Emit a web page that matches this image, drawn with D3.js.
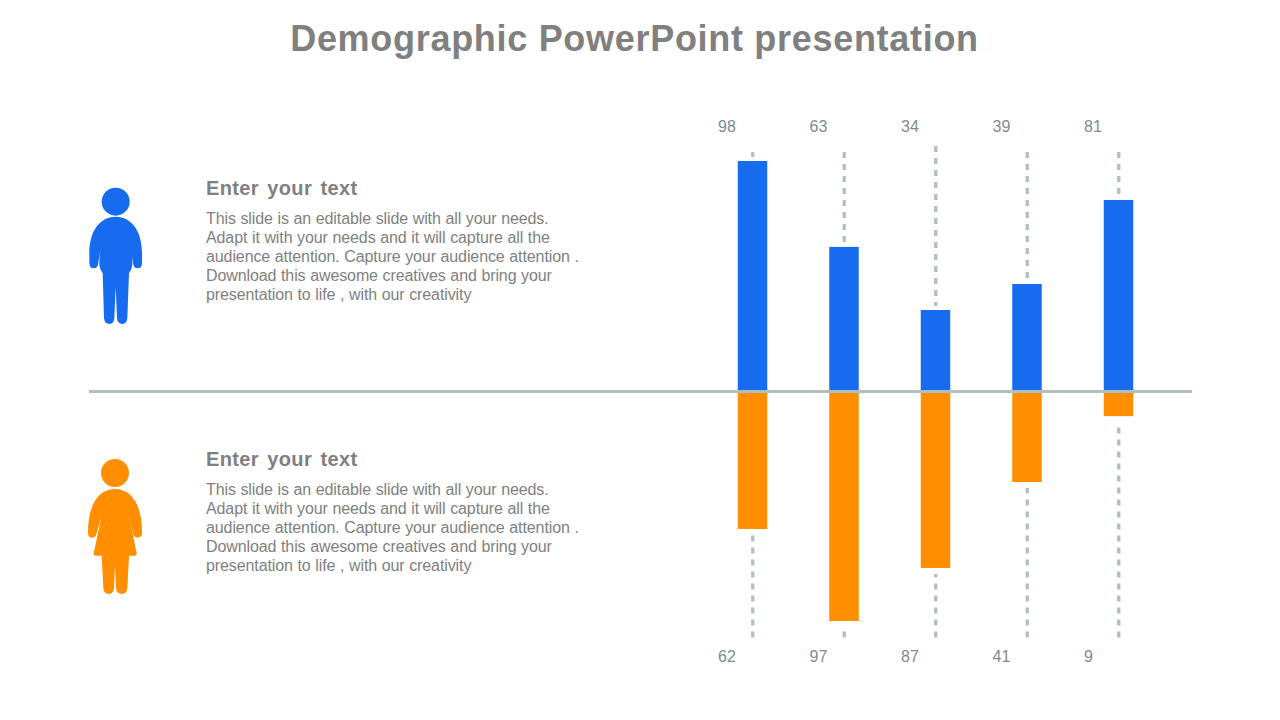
<!DOCTYPE html>
<html>
<head>
<meta charset="utf-8">
<script src="https://cdn.jsdelivr.net/npm/d3@7"></script>
<style>
  html, body { margin: 0; background: #fff; }
  text { font-family: "Liberation Sans", Arial, sans-serif; }
</style>
</head>
<body>
<div id="wrapper"></div>
<script>
// access data
const slideTitle = "Demographic PowerPoint presentation"
const heading = "Enter your text"
const bodyLines = [
  "This slide is an editable slide with all your needs.",
  "Adapt it with your needs and it will capture all the",
  "audience attention. Capture your audience attention .",
  "Download this awesome creatives and bring your",
  "presentation to life , with our creativity"
]
const columns = [0, 1, 2, 3, 4]
const topLabels = ["98", "63", "34", "39", "81"]
const bottomLabels = ["62", "97", "87", "41", "9"]
// bar lengths as drawn, they do not follow the printed labels exactly
const topValues = [98, 61.4, 34.5, 45.6, 81.4]
const bottomValues = [58.8, 98, 75.4, 38.8, 10.7]
const guideTops = [101.8, 101.8, 104.4, 101.8, 101.8]

const blue = "#176bef"
const orange = "#ff8f00"
const guideColor = "#b1bfc1"
const textColor = "#808080"
const labelColor = "#7f8a94"

const wrapper = d3.select("#wrapper")
  .append("svg")
    .attr("width", 1280)
    .attr("height", 720)
    .style("display", "block")

// create scales
const xScale = d3.scalePoint()
  .domain(columns)
  .range([752.5, 1118.5])
const upScale = d3.scaleLinear()
  .domain([0, 98])
  .range([391, 161])
const downScale = d3.scaleLinear()
  .domain([0, 98])
  .range([391, 621])
const barWidth = 29.5

// title
wrapper.append("text")
  .attr("x", 634.5)
  .attr("y", 51)
  .attr("text-anchor", "middle")
  .attr("font-size", 36)
  .attr("font-weight", "bold")
  .attr("letter-spacing", 0.7)
  .attr("fill", textColor)
  .text(slideTitle)

// text blocks
const blocks = wrapper.selectAll(".block")
  .data([195, 466])
  .enter().append("g")
    .attr("class", "block")
    .attr("transform", d => `translate(206, ${d})`)

blocks.append("text")
  .attr("font-size", 20)
  .attr("font-weight", "bold")
  .attr("letter-spacing", 0.35)
  .attr("word-spacing", 2.5)
  .attr("fill", textColor)
  .text(heading)

blocks.selectAll(".line")
  .data(bodyLines)
  .enter().append("text")
    .attr("class", "line")
    .attr("y", (d, i) => 29 + i * 19)
    .attr("font-size", 16)
    .attr("letter-spacing", -0.1)
    .attr("word-spacing", 0.3)
    .attr("fill", textColor)
    .text(d => d)

// people
const manPath = "M137 140C186 140 216 185 216 250L216 278Q216 295 203 295Q190 295 189 278L178 208Q187 250 187 285Q186 298 177 310L172 445Q170 462 157 462Q143 462 141 445L137 350L133 445Q131 462 118 462Q104 462 102 445L98 310Q89 298 88 285Q88 250 96 208L85 278Q84 295 71 295Q58 295 58 278L58 250C58 185 88 140 137 140Z"
const womanPath = "M135 132C185 132 216 180 216 262Q216 278 203 278Q192 278 189 265L177 212L200 325Q201 332 194 332L177 332L172 430Q170 447 155 447Q140 447 138 430L135 360L132 430Q130 447 116 447Q102 447 100 430L95 332L76 332Q70 332 71 325L95 212L80 265Q77 278 66 278Q54 278 54 262C54 180 85 132 135 132Z"

const people = [
  {path: manPath, color: blue, x: 70, y: 170, head: [137, 95]},
  {path: womanPath, color: orange, x: 70, y: 445, head: [135, 84]}
]

const figures = wrapper.selectAll(".person")
  .data(people)
  .enter().append("g")
    .attr("class", "person")
    .attr("transform", d => `translate(${d.x}, ${d.y}) scale(${1 / 3})`)
    .attr("fill", d => d.color)
figures.append("circle")
  .attr("cx", d => d.head[0])
  .attr("cy", d => d.head[1])
  .attr("r", 42)
figures.append("path")
  .attr("d", d => d.path)

// dashed guides, cut short of each bar
const guideX = d => xScale(d) + 0.25
const topGuides = wrapper.selectAll(".guide-top")
  .data(columns)
  .enter().append("line")
    .attr("class", "guide-top")
    .attr("x1", guideX)
    .attr("x2", guideX)
    .attr("y1", d => upScale(guideTops[d]))
    .attr("y2", d => upScale(topValues[d]) - 4)
const bottomGuides = wrapper.selectAll(".guide-bottom")
  .data(columns)
  .enter().append("line")
    .attr("class", "guide-bottom")
    .attr("x1", guideX)
    .attr("x2", guideX)
    .attr("y1", downScale(105))
    .attr("y2", d => downScale(bottomValues[d]) + 6)
wrapper.selectAll(".guide-top, .guide-bottom")
  .attr("stroke", guideColor)
  .attr("stroke-width", 3.3)
  .attr("stroke-dasharray", "6 6")

// draw data
wrapper.selectAll(".bar-top")
  .data(columns)
  .enter().append("rect")
    .attr("class", "bar-top")
    .attr("x", d => xScale(d) - barWidth / 2)
    .attr("y", d => upScale(topValues[d]))
    .attr("width", barWidth)
    .attr("height", d => upScale(0) - upScale(topValues[d]))
    .attr("fill", blue)

wrapper.selectAll(".bar-bottom")
  .data(columns)
  .enter().append("rect")
    .attr("class", "bar-bottom")
    .attr("x", d => xScale(d) - barWidth / 2)
    .attr("y", downScale(0))
    .attr("width", barWidth)
    .attr("height", d => downScale(bottomValues[d]) - downScale(0))
    .attr("fill", orange)

// baseline goes over the bars
wrapper.append("line")
  .attr("x1", 89)
  .attr("x2", 1192)
  .attr("y1", upScale(0) + 0.5)
  .attr("y2", upScale(0) + 0.5)
  .attr("stroke", guideColor)
  .attr("stroke-width", 3)

// labels
wrapper.selectAll(".label-top")
  .data(columns)
  .enter().append("text")
    .attr("class", "label-top")
    .attr("x", d => xScale(d) - 34.5)
    .attr("y", 132)
    .attr("font-size", 16)
    .attr("fill", labelColor)
    .text(d => topLabels[d])

wrapper.selectAll(".label-bottom")
  .data(columns)
  .enter().append("text")
    .attr("class", "label-bottom")
    .attr("x", d => xScale(d) - 34.5)
    .attr("y", 662)
    .attr("font-size", 16)
    .attr("fill", labelColor)
    .text(d => bottomLabels[d])
</script>
</body>
</html>
